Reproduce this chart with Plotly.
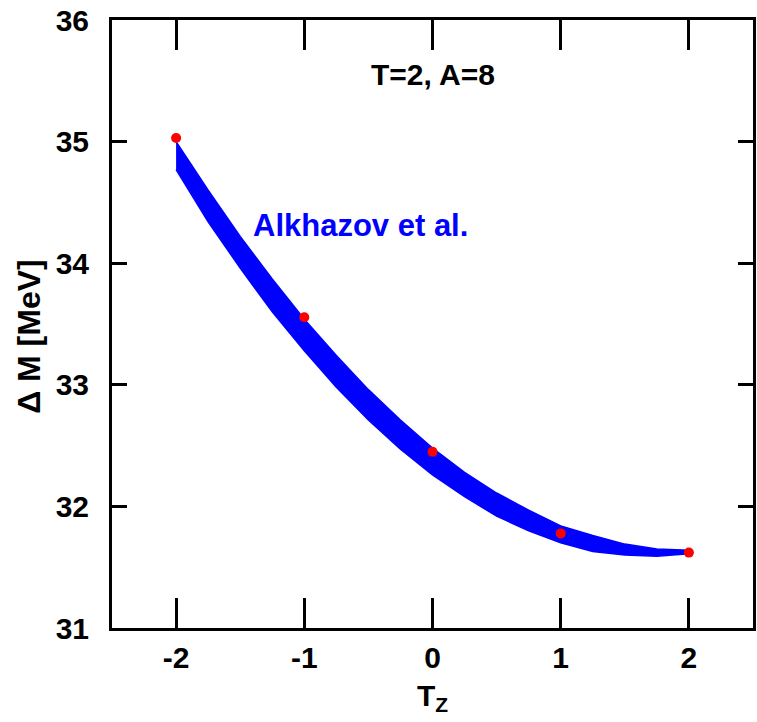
import plotly.graph_objects as go

# Band (Alkhazov et al.) edges
band_tz = [-2.0, -1.75, -1.5, -1.25, -1.0, -0.75, -0.5, -0.25, 0.0,
           0.25, 0.5, 0.75, 1.0, 1.25, 1.5, 1.75, 2.0]
band_upper = [35.00, 34.60, 34.22, 33.87, 33.54, 33.24, 32.96, 32.71, 32.48,
              32.28, 32.11, 31.97, 31.84, 31.76, 31.69, 31.65, 31.64]
band_lower = [34.77, 34.34, 33.96, 33.60, 33.28, 32.98, 32.71, 32.47, 32.26,
              32.08, 31.92, 31.80, 31.70, 31.63, 31.60, 31.59, 31.61]

# Data points
pt_tz = [-2, -1, 0, 1, 2]
pt_dm = [35.03, 33.555, 32.45, 31.778, 31.62]

x_ticks = [-2, -1, 0, 1, 2]
y_ticks = [31, 32, 33, 34, 35, 36]

FONT = "Liberation Sans, Arial, sans-serif"

fig = go.Figure()
fig.add_trace(go.Scatter(x=band_tz, y=band_lower, mode="lines",
                         line=dict(color="#0000ff", width=1.5), showlegend=False,
                         hoverinfo="skip"))
fig.add_trace(go.Scatter(x=band_tz, y=band_upper, mode="lines",
                         line=dict(color="#0000ff", width=1.5), fill="tonexty",
                         fillcolor="#0000ff", showlegend=False, hoverinfo="skip"))
fig.add_trace(go.Scatter(x=pt_tz, y=pt_dm, mode="markers",
                         marker=dict(color="#ff0000", size=10), showlegend=False))

axis_common = dict(showline=True, linecolor="black", linewidth=3, mirror="ticks",
                   ticks="inside", tickwidth=3, tickcolor="black",
                   showgrid=False, zeroline=False,
                   tickfont=dict(family=FONT, size=30, color="black", weight="bold"))

fig.update_xaxes(range=[-2.5, 2.5], tickvals=x_ticks, ticktext=[str(v) for v in x_ticks],
                 ticklen=30, ticklabelstandoff=1, **axis_common)
fig.update_yaxes(range=[31, 36], tickvals=y_ticks, ticktext=[str(v) for v in y_ticks],
                 ticklen=15, ticklabelstandoff=14, **axis_common)

fig.add_annotation(x=0, y=35.55, xref="x", yref="y", text="<b>T=2, A=8</b>",
                   showarrow=False, font=dict(family=FONT, size=30, color="black"))
fig.add_annotation(x=-0.565, y=34.31, xref="x", yref="y", text="<b>Alkhazov et al.</b>",
                   showarrow=False, font=dict(family=FONT, size=31, color="#0000ff"))
fig.add_annotation(x=0, y=-0.115, xref="x", yref="paper", text="<b>T<sub>Z</sub></b>",
                   showarrow=False, yanchor="middle",
                   font=dict(family=FONT, size=30, color="black"))
fig.add_annotation(x=-0.13, y=0.48, xref="paper", yref="paper", text="<b>\u0394 M [MeV]</b>",
                   showarrow=False, textangle=-90, xanchor="center",
                   font=dict(family=FONT, size=32, color="black"))

fig.update_layout(width=757, height=722, paper_bgcolor="white", plot_bgcolor="white",
                  margin=dict(l=112, r=1, t=20, b=94), showlegend=False)

fig.write_html("out.html")
